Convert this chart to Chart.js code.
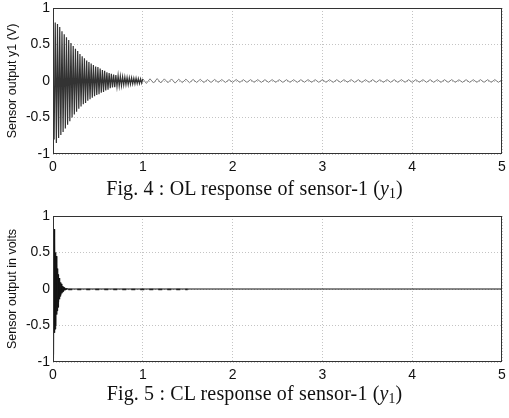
<!DOCTYPE html>
<html>
<head>
<meta charset="utf-8">
<script src="https://cdn.jsdelivr.net/npm/chart.js@4.4.0/dist/chart.umd.min.js"></script>
<style>
  body { margin: 0; background: #fff; }
  #wrap { position: relative; width: 509px; height: 418px; }
  canvas { position: absolute; left: 0; }
  .caption { position: absolute; left: 0; width: 509px; text-align: center; font: 20px/20px 'Liberation Serif', serif; letter-spacing: 0.15px; color: #111; }
  .caption .sub { font-size: 0.68em; position: relative; top: 0.22em; }
</style>
</head>
<body>
<div id="wrap">
  <canvas id="olChart" width="509" height="178" style="top:0"></canvas>
  <div class="caption" style="top:178px">Fig. 4 : OL response of sensor-1 (<i>y</i><span class="sub">1</span>)</div>
  <canvas id="clChart" width="509" height="178" style="top:208px"></canvas>
  <div class="caption" style="top:383px">Fig. 5 : CL response of sensor-1 (<i>y</i><span class="sub">1</span>)</div>
</div>
<script>
const xTicks = [0, 1, 2, 3, 4, 5];
const yTicks = [-1, -0.5, 0, 0.5, 1];

// open loop: extrema of the decaying burst, one every 0.0125 s from t = 0 to 1 s
const olBurstStart = 0;
const olBurstStep = 0.0125;
const olBurst = [
  0.35, -0.80, 0.80, -0.85, 0.78, -0.78, 0.74, -0.74, 0.68, -0.70,
  0.64, -0.65, 0.60, -0.60, 0.56, -0.55, 0.52, -0.50, 0.48, -0.46,
  0.44, -0.42, 0.41, -0.38, 0.37, -0.35, 0.34, -0.32, 0.31, -0.30,
  0.28, -0.27, 0.26, -0.25, 0.24, -0.23, 0.22, -0.21, 0.20, -0.19,
  0.19, -0.18, 0.17, -0.16, 0.15, -0.15, 0.14, -0.13, 0.12, -0.12,
  0.11, -0.10, 0.10, -0.09, 0.09, -0.085, 0.08, -0.075, 0.075, -0.07,
  0.065, -0.065, 0.06, -0.055, 0.055, -0.05, 0.05, -0.05, 0.045, -0.045,
  0.045, -0.04, 0.04, -0.04, 0.04, -0.035, 0.035, -0.035, 0.03, -0.03,
  0.03
];
// open loop: small residual wiggle, extrema every 0.04 s from t = 1.04 to 5 s
const olTailStart = 1.04;
const olTailStep = 0.04;
const olTail = [
  -0.034, 0.030, -0.028, 0.033, -0.027, 0.029, -0.024, 0.028, -0.029, 0.024,
  -0.022, 0.025, -0.023, 0.021, -0.020, 0.023, -0.021, 0.019, -0.020, 0.021,
  -0.019, 0.020, -0.020, 0.019, -0.018, 0.020, -0.019, 0.018, -0.019, 0.019,
  -0.018, 0.019, -0.019, 0.018, -0.018, 0.019, -0.018, 0.018, -0.019, 0.018,
  -0.018, 0.018, -0.019, 0.018, -0.017, 0.019, -0.018, 0.018, -0.018, 0.019,
  -0.018, 0.018, -0.019, 0.018, -0.018, 0.018, -0.017, 0.019, -0.018, 0.018,
  -0.019, 0.018, -0.018, 0.019, -0.018, 0.017, -0.018, 0.019, -0.018, 0.018,
  -0.018, 0.019, -0.018, 0.018, -0.019, 0.018, -0.017, 0.018, -0.018, 0.019,
  -0.018, 0.018, -0.019, 0.018, -0.018, 0.019, -0.018, 0.017, -0.018, 0.018,
  -0.019, 0.018, -0.018, 0.019, -0.018, 0.018, -0.018, 0.019, -0.018, 0.018
];

// closed loop: fast burst, samples every 0.004 s from t = 0
const clBurstStart = 0;
const clBurstStep = 0.004;
const clBurst = [
  -0.95, 0.60, -0.90, 0.82, -0.60, 0.70, -0.55, 0.50, -0.50, 0.45,
  -0.35, 0.35, -0.30, 0.28, -0.25, 0.20, -0.18, 0.15, -0.14, 0.12,
  -0.10, 0.09, -0.08, 0.07, -0.06, 0.05, -0.045, 0.04, -0.035, 0.03,
  -0.025, 0.02, -0.018, 0.015, -0.012, 0.01, -0.008, 0.006, -0.005, 0.004,
  0
];
const clSettledTimes = [0.16, 5];
const clSettledValues = [0, 0];
const clDashTimes = [0.17, 1.5];
const clDashValues = [-0.006, -0.006];

function stepped(start, step, values) {
  return values.map((y, i) => ({ x: start + i * step, y: y }));
}
function paired(times, values) {
  return times.map((x, i) => ({ x: x, y: values[i] }));
}

const framePlugin = {
  id: 'frame',
  afterDatasetsDraw(chart) {
    const { ctx, chartArea: a } = chart;
    ctx.save();
    ctx.strokeStyle = '#333';
    ctx.lineWidth = 1;
    ctx.strokeRect(Math.round(a.left) + 0.5, Math.round(a.top) + 0.5,
      Math.round(a.right - a.left) - 1, Math.round(a.bottom - a.top) - 1);
    ctx.restore();
  }
};

const tickFont = { family: 'Liberation Sans', size: 14 };

function makeChart(id, datasets, yTitle) {
  return new Chart(document.getElementById(id), {
    type: 'line',
    data: { datasets: datasets },
    options: {
      responsive: false,
      animation: false,
      parsing: false,
      events: [],
      layout: { padding: { top: 8, right: 7, left: 0, bottom: 0 } },
      elements: { point: { radius: 0 }, line: { tension: 0 } },
      plugins: { legend: { display: false }, tooltip: { enabled: false } },
      scales: {
        x: {
          type: 'linear', min: 0, max: 5,
          afterBuildTicks: s => { s.ticks = xTicks.map(v => ({ value: v })); },
          afterFit: s => { s.height = 24; s.paddingLeft = 0; s.paddingRight = 0; },
          grid: { color: '#c4c4c4', drawTicks: false },
          border: { display: false, dash: [1, 2] },
          ticks: { padding: 5, color: '#111', font: tickFont, maxRotation: 0, callback: v => String(v) }
        },
        y: {
          type: 'linear', min: -1, max: 1,
          afterBuildTicks: s => { s.ticks = yTicks.map(v => ({ value: v })); },
          afterFit: s => { s.width = 53; s.paddingTop = 0; s.paddingBottom = 0; },
          grid: { color: '#c4c4c4', drawTicks: false },
          border: { display: false, dash: [1, 2] },
          ticks: { padding: 3, color: '#111', font: tickFont, callback: v => String(v) },
          title: { display: true, text: yTitle, color: '#111',
            font: { family: 'Liberation Sans', size: 12.5 }, padding: { top: 5, bottom: 0 } }
        }
      }
    },
    plugins: [framePlugin]
  });
}

// the residual wiggle after 1 s is drawn in a lighter, thinner stroke
const afterBurst = ctx => ctx.p0.parsed.x >= 1;

makeChart('olChart', [{
  data: stepped(olBurstStart, olBurstStep, olBurst).concat(stepped(olTailStart, olTailStep, olTail)),
  borderColor: '#333',
  borderWidth: 1.2,
  segment: {
    borderColor: ctx => afterBurst(ctx) ? '#707070' : undefined,
    borderWidth: ctx => afterBurst(ctx) ? 0.9 : undefined
  }
}], 'Sensor output y1 (V)');

makeChart('clChart', [{
  data: stepped(clBurstStart, clBurstStep, clBurst).concat(paired(clSettledTimes, clSettledValues)),
  borderColor: '#111',
  borderWidth: 1
}, {
  data: paired(clDashTimes, clDashValues),
  borderColor: '#333',
  borderWidth: 1.5,
  borderDash: [4, 5]
}], 'Sensor output in volts');
</script>
</body>
</html>
